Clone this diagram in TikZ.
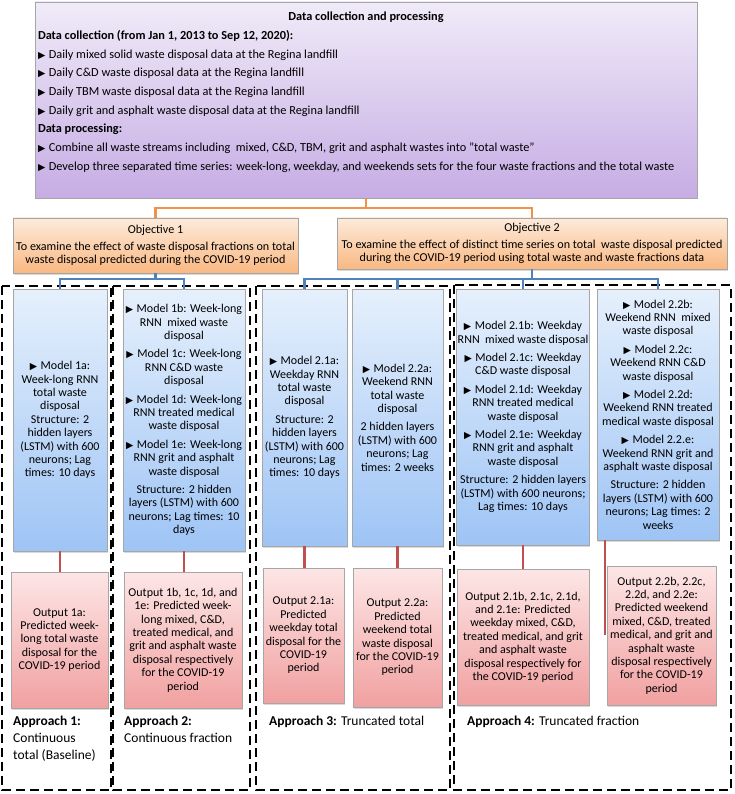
\documentclass[tikz,border=0pt]{standalone}
\usepackage{fontspec}
\setmainfont{Carlito}
\newfontfamily\symfont{DejaVu Sans}
\usepackage{tikz}
\usetikzlibrary{shadows,positioning}

\definecolor{datatop}{RGB}{240,235,248}
\definecolor{databot}{RGB}{198,172,228}
\definecolor{objtop}{RGB}{253,235,219}
\definecolor{objbot}{RGB}{249,184,130}
\definecolor{modeltop}{RGB}{230,240,252}
\definecolor{modelbot}{RGB}{158,196,245}
\definecolor{outtop}{RGB}{253,230,230}
\definecolor{outbot}{RGB}{241,160,160}
\definecolor{linkorange}{RGB}{240,146,74}
\definecolor{linkblue}{RGB}{79,129,189}
\definecolor{linkred}{RGB}{192,80,77}

\newcommand{\tri}{{\symfont\fontsize{9.5}{9.5}\selectfont ▶}\hspace{3.5pt}}

\begin{document}
\begin{tikzpicture}[x=1pt, y=-1pt,
    chartbox/.style={draw=black!35, line width=0.5pt, align=center, inner sep=1pt,
      drop shadow={opacity=0.3, shadow xshift=1.2pt, shadow yshift=-1.5pt}},
    databox/.style={chartbox, top color=datatop, bottom color=databot},
    objbox/.style={chartbox, top color=objtop, bottom color=objbot, font=\fontsize{12.1}{13.6}\selectfont},
    modelbox/.style={chartbox, top color=modeltop, bottom color=modelbot, font=\fontsize{12}{13.4}\selectfont},
    outbox/.style={chartbox, top color=outtop, bottom color=outbot, font=\fontsize{12}{13.4}\selectfont},
    approachframe/.style={draw=black, line width=2.2pt, dash pattern=on 9pt off 5pt},
    approachtext/.style={anchor=north west, inner sep=0pt, align=left, font=\fontsize{13.5}{17}\selectfont},
    orangelink/.style={draw=linkorange, line width=2.2pt},
    bluelink/.style={draw=linkblue, line width=2.2pt},
    redlink/.style={draw=linkred, line width=2.2pt}]
   \useasboundingbox (0,0) rectangle (734,794);

   % approach frames
   \draw[approachframe] (2,286) rectangle (111,790);
   \draw[approachframe] (113,286) rectangle (250,790);
   \draw[approachframe] (256,286) rectangle (450,790);
   \draw[approachframe] (454,285) rectangle (731,790);

   % data and objectives
   \node[databox, minimum width=662pt, minimum height=196pt] (data) at (366,100)
     {\parbox[c][188pt][t]{656pt}{\fontsize{12.3}{18.7}\selectfont\raggedright
      \vspace*{6pt}\makebox[\linewidth]{\textbf{Data collection and processing}}\\
      \textbf{Data collection (from Jan 1, 2013 to Sep 12, 2020):}\\
      \tri Daily mixed solid waste disposal data at the Regina landfill\\
      \tri Daily C\&D waste disposal data at the Regina landfill\\
      \tri Daily TBM waste disposal data at the Regina landfill\\
      \tri Daily grit and asphalt waste disposal data at the Regina landfill\\
      \textbf{Data processing:}\\
      \tri Combine all waste streams including\ \ mixed, C\&D, TBM, grit and asphalt wastes into "total waste"\\
      \tri Develop three separated time series: week-long, weekday, and weekends sets for the four waste fractions and the total waste}};
   \node[objbox, minimum width=285pt, minimum height=55pt] (obj1) at (155.5,245.5)
     {Objective 1\\[3pt]To examine the effect of waste disposal fractions on total\\waste disposal predicted during the COVID-19 period};
   \node[objbox, minimum width=390pt, minimum height=51pt] (obj2) at (532,243.5)
     {Objective 2\\[3pt]To examine the effect of distinct time series on total\ \ waste disposal predicted\\during the COVID-19 period using total waste and waste fractions data};

   % models
   \node[modelbox, minimum width=94pt, minimum height=262pt] (m1a) at (60,420)
     {\tri Model 1a:\\Week-long RNN\\total waste\\disposal\\Structure: 2\\hidden layers\\(LSTM) with 600\\neurons; Lag\\times: 10 days};
   \node[modelbox, minimum width=122pt, minimum height=262pt] (m1b) at (184,420)
     {\tri Model 1b: Week-long\\RNN\ \ mixed waste\\disposal\\[5pt]
      \tri Model 1c: Week-long\\RNN C\&D waste\\disposal\\[5pt]
      \tri Model 1d: Week-long\\RNN treated medical\\waste disposal\\[5pt]
      \tri Model 1e: Week-long\\RNN grit and asphalt\\waste disposal\\[5pt]
      Structure: 2 hidden\\layers (LSTM) with 600\\neurons; Lag times: 10\\days};
   \node[modelbox, minimum width=85pt, minimum height=257pt] (m21a) at (304.5,417.5)
     {\tri Model 2.1a:\\Weekday RNN\\total waste\\disposal\\[5pt]Structure: 2\\hidden layers\\(LSTM) with 600\\neurons; Lag\\times: 10 days};
   \node[modelbox, minimum width=91pt, minimum height=257pt] (m22a) at (397.5,417.5)
     {\tri Model 2.2a:\\Weekend RNN\\total waste\\disposal\\[5pt]2 hidden layers\\(LSTM) with 600\\neurons; Lag\\times: 2 weeks};
   \node[modelbox, minimum width=132pt, minimum height=256pt] (m21b) at (523,417)
     {\tri Model 2.1b: Weekday\\RNN\ \ mixed waste disposal\\[5pt]
      \tri Model 2.1c: Weekday\\C\&D waste disposal\\[5pt]
      \tri Model 2.1d: Weekday\\RNN treated medical\\waste disposal\\[5pt]
      \tri Model 2.1e: Weekday\\RNN grit and asphalt\\waste disposal\\[5pt]
      Structure: 2 hidden layers\\(LSTM) with 600 neurons;\\Lag times: 10 days};
   \node[modelbox, minimum width=122pt, minimum height=251pt] (m22b) at (658,414.5)
     {\tri Model 2.2b:\\Weekend RNN\ \ mixed\\waste disposal\\[5pt]
      \tri Model 2.2c:\\Weekend RNN C\&D\\waste disposal\\[5pt]
      \tri Model 2.2d:\\Weekend RNN treated\\medical waste disposal\\[5pt]
      \tri Model 2.2.e:\\Weekend RNN grit and\\asphalt waste disposal\\[5pt]
      Structure: 2 hidden\\layers (LSTM) with 600\\neurons; Lag times: 2\\weeks};

   % outputs
   \node[outbox, minimum width=97pt, minimum height=136pt] (o1a) at (59.5,640)
     {Output 1a:\\Predicted week-\\long total waste\\disposal for the\\COVID-19 period};
   \node[outbox, minimum width=118pt, minimum height=136pt] (o1b) at (183,640)
     {Output 1b, 1c, 1d, and\\1e: Predicted week-\\long mixed, C\&D,\\treated medical, and\\grit and asphalt waste\\disposal respectively\\for the COVID-19\\period};
   \node[outbox, minimum width=81pt, minimum height=135pt] (o21a) at (303.5,635.5)
     {Output 2.1a:\\Predicted\\weekday total\\disposal for the\\COVID-19\\period};
   \node[outbox, minimum width=89pt, minimum height=139pt] (o22a) at (397.5,637.5)
     {Output 2.2a:\\Predicted\\weekend total\\waste disposal\\for the COVID-19\\period};
   \node[outbox, minimum width=132pt, minimum height=136pt] (o21b) at (523,637)
     {Output 2.1b, 2.1c, 2.1d,\\and 2.1e: Predicted\\weekday mixed, C\&D,\\treated medical, and grit\\and asphalt waste\\disposal respectively for\\the COVID-19 period};
   \node[outbox, minimum width=109pt, minimum height=139pt] (o22b) at (661.5,635.5)
     {Output 2.2b, 2.2c,\\2.2d, and 2.2e:\\Predicted weekend\\mixed, C\&D, treated\\medical, and grit and\\asphalt waste\\disposal respectively\\for the COVID-19\\period};

   % approach labels
   \node[approachtext] (appr1) at (13,716) {\textbf{Approach 1:}\\Continuous\\total (Baseline)};
   \node[approachtext] (appr2) at (124,716) {\textbf{Approach 2:}\\Continuous fraction};
   \node[approachtext] (appr3) at (269,716) {\textbf{Approach 3:} Truncated total};
   \node[approachtext] (appr4) at (467,716) {\textbf{Approach 4:} Truncated fraction};

   % connectors
   \draw[orangelink] (data.south) -- ++(0,10) -| (obj1.north);
   \draw[orangelink] (data.south) -- ++(0,10) -| (obj2.north);
   \foreach \m in {m1a,m1b}
     \draw[bluelink] (obj1.south) -- ++(0,6) -| (\m.north);
   \foreach \m in {m21a,m22a,m21b,m22b}
     \draw[bluelink] (obj2.south) -- ++(0,10) -| (\m.north);
   \foreach \m/\o in {m1a/o1a,m1b/o1b,m21a/o21a,m22a/o22a,m21b/o21b}
     \draw[redlink] (\m.south) -- (\m.south |- \o.north);
   \coordinate (o22bkink) at (605,635);
   \draw[redlink] (m22b.south -| o22bkink) -- (o22bkink);
\end{tikzpicture}
\end{document}
